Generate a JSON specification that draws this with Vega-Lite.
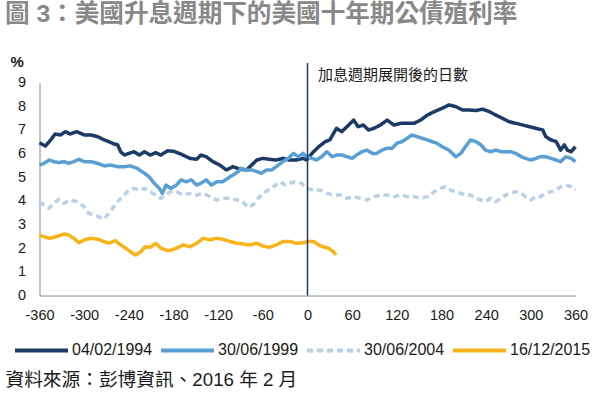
{
"$schema": "https://vega.github.io/schema/vega-lite/v6.json",
"width": 536, "height": 212.8,
"autosize": {"type": "none"},
"padding": {"left": 39.5, "top": 82.7, "right": 20.5, "bottom": 102.5},
"background": "white",
"config": {"view": {"stroke": null}, "font": "Liberation Sans, Noto Sans CJK TC"},
"title": {"text": "圖 3：美國升息週期下的美國十年期公債殖利率", "anchor": "start", "frame": "group", "dx": -34.5, "offset": 26, "fontSize": 24.6, "fontWeight": "bold", "color": "#888888", "font": "Liberation Sans, Noto Sans CJK TC"},
"layer": [
{"data": {"values": [
{"s":"04/02/1994","d":-360,"v":6.46},{"s":"04/02/1994","d":-352,"v":6.32},{"s":"04/02/1994","d":-345,"v":6.58},{"s":"04/02/1994","d":-339,"v":6.83},{"s":"04/02/1994","d":-332,"v":6.79},{"s":"04/02/1994","d":-325,"v":6.93},{"s":"04/02/1994","d":-319,"v":6.83},{"s":"04/02/1994","d":-310,"v":6.93},{"s":"04/02/1994","d":-300,"v":6.79},{"s":"04/02/1994","d":-291,"v":6.79},{"s":"04/02/1994","d":-282,"v":6.72},{"s":"04/02/1994","d":-273,"v":6.58},{"s":"04/02/1994","d":-267,"v":6.51},{"s":"04/02/1994","d":-260,"v":6.41},{"s":"04/02/1994","d":-255,"v":6.37},{"s":"04/02/1994","d":-251,"v":6.08},{"s":"04/02/1994","d":-246,"v":5.94},{"s":"04/02/1994","d":-240,"v":6.01},{"s":"04/02/1994","d":-233,"v":6.08},{"s":"04/02/1994","d":-226,"v":5.94},{"s":"04/02/1994","d":-219,"v":6.08},{"s":"04/02/1994","d":-211,"v":5.94},{"s":"04/02/1994","d":-204,"v":6.04},{"s":"04/02/1994","d":-197,"v":5.94},{"s":"04/02/1994","d":-188,"v":6.12},{"s":"04/02/1994","d":-180,"v":6.1},{"s":"04/02/1994","d":-172,"v":6.01},{"s":"04/02/1994","d":-158,"v":5.8},{"s":"04/02/1994","d":-149,"v":5.76},{"s":"04/02/1994","d":-143,"v":5.94},{"s":"04/02/1994","d":-136,"v":5.87},{"s":"04/02/1994","d":-127,"v":5.66},{"s":"04/02/1994","d":-118,"v":5.52},{"s":"04/02/1994","d":-109,"v":5.31},{"s":"04/02/1994","d":-100,"v":5.45},{"s":"04/02/1994","d":-91,"v":5.34},{"s":"04/02/1994","d":-82,"v":5.31},{"s":"04/02/1994","d":-75,"v":5.52},{"s":"04/02/1994","d":-68,"v":5.73},{"s":"04/02/1994","d":-60,"v":5.8},{"s":"04/02/1994","d":-51,"v":5.76},{"s":"04/02/1994","d":-42,"v":5.73},{"s":"04/02/1994","d":-33,"v":5.8},{"s":"04/02/1994","d":-24,"v":5.73},{"s":"04/02/1994","d":-15,"v":5.73},{"s":"04/02/1994","d":-6,"v":5.8},{"s":"04/02/1994","d":-1,"v":5.73},{"s":"04/02/1994","d":6,"v":6.01},{"s":"04/02/1994","d":15,"v":6.29},{"s":"04/02/1994","d":24,"v":6.51},{"s":"04/02/1994","d":30,"v":6.58},{"s":"04/02/1994","d":35,"v":6.86},{"s":"04/02/1994","d":39,"v":7.07},{"s":"04/02/1994","d":46,"v":6.93},{"s":"04/02/1994","d":53,"v":7.14},{"s":"04/02/1994","d":62,"v":7.42},{"s":"04/02/1994","d":68,"v":7.14},{"s":"04/02/1994","d":75,"v":7.21},{"s":"04/02/1994","d":82,"v":7.0},{"s":"04/02/1994","d":89,"v":7.07},{"s":"04/02/1994","d":98,"v":7.21},{"s":"04/02/1994","d":107,"v":7.42},{"s":"04/02/1994","d":116,"v":7.21},{"s":"04/02/1994","d":125,"v":7.28},{"s":"04/02/1994","d":134,"v":7.28},{"s":"04/02/1994","d":143,"v":7.28},{"s":"04/02/1994","d":152,"v":7.42},{"s":"04/02/1994","d":161,"v":7.63},{"s":"04/02/1994","d":170,"v":7.77},{"s":"04/02/1994","d":181,"v":7.92},{"s":"04/02/1994","d":190,"v":8.06},{"s":"04/02/1994","d":199,"v":7.99},{"s":"04/02/1994","d":208,"v":7.85},{"s":"04/02/1994","d":217,"v":7.85},{"s":"04/02/1994","d":226,"v":7.82},{"s":"04/02/1994","d":235,"v":7.88},{"s":"04/02/1994","d":244,"v":7.78},{"s":"04/02/1994","d":253,"v":7.63},{"s":"04/02/1994","d":262,"v":7.49},{"s":"04/02/1994","d":271,"v":7.35},{"s":"04/02/1994","d":280,"v":7.28},{"s":"04/02/1994","d":289,"v":7.21},{"s":"04/02/1994","d":298,"v":7.14},{"s":"04/02/1994","d":307,"v":7.07},{"s":"04/02/1994","d":316,"v":7.0},{"s":"04/02/1994","d":320,"v":6.72},{"s":"04/02/1994","d":327,"v":6.58},{"s":"04/02/1994","d":334,"v":6.51},{"s":"04/02/1994","d":340,"v":6.15},{"s":"04/02/1994","d":345,"v":6.37},{"s":"04/02/1994","d":349,"v":6.15},{"s":"04/02/1994","d":354,"v":6.08},{"s":"04/02/1994","d":360,"v":6.29},
{"s":"30/06/1999","d":-360,"v":5.52},{"s":"30/06/1999","d":-354,"v":5.59},{"s":"30/06/1999","d":-347,"v":5.73},{"s":"30/06/1999","d":-341,"v":5.66},{"s":"30/06/1999","d":-334,"v":5.62},{"s":"30/06/1999","d":-327,"v":5.66},{"s":"30/06/1999","d":-321,"v":5.59},{"s":"30/06/1999","d":-314,"v":5.66},{"s":"30/06/1999","d":-307,"v":5.76},{"s":"30/06/1999","d":-300,"v":5.66},{"s":"30/06/1999","d":-291,"v":5.66},{"s":"30/06/1999","d":-282,"v":5.59},{"s":"30/06/1999","d":-273,"v":5.48},{"s":"30/06/1999","d":-265,"v":5.52},{"s":"30/06/1999","d":-255,"v":5.45},{"s":"30/06/1999","d":-246,"v":5.45},{"s":"30/06/1999","d":-238,"v":5.48},{"s":"30/06/1999","d":-229,"v":5.38},{"s":"30/06/1999","d":-219,"v":5.17},{"s":"30/06/1999","d":-213,"v":5.03},{"s":"30/06/1999","d":-206,"v":4.75},{"s":"30/06/1999","d":-199,"v":4.53},{"s":"30/06/1999","d":-195,"v":4.32},{"s":"30/06/1999","d":-190,"v":4.67},{"s":"30/06/1999","d":-184,"v":4.53},{"s":"30/06/1999","d":-176,"v":4.67},{"s":"30/06/1999","d":-170,"v":4.89},{"s":"30/06/1999","d":-163,"v":4.81},{"s":"30/06/1999","d":-156,"v":4.89},{"s":"30/06/1999","d":-149,"v":4.67},{"s":"30/06/1999","d":-143,"v":4.75},{"s":"30/06/1999","d":-136,"v":4.89},{"s":"30/06/1999","d":-129,"v":4.67},{"s":"30/06/1999","d":-122,"v":4.81},{"s":"30/06/1999","d":-114,"v":4.81},{"s":"30/06/1999","d":-107,"v":4.96},{"s":"30/06/1999","d":-100,"v":5.1},{"s":"30/06/1999","d":-93,"v":5.24},{"s":"30/06/1999","d":-89,"v":5.38},{"s":"30/06/1999","d":-82,"v":5.31},{"s":"30/06/1999","d":-75,"v":5.31},{"s":"30/06/1999","d":-68,"v":5.24},{"s":"30/06/1999","d":-62,"v":5.17},{"s":"30/06/1999","d":-55,"v":5.31},{"s":"30/06/1999","d":-48,"v":5.31},{"s":"30/06/1999","d":-42,"v":5.45},{"s":"30/06/1999","d":-33,"v":5.66},{"s":"30/06/1999","d":-26,"v":5.8},{"s":"30/06/1999","d":-19,"v":6.01},{"s":"30/06/1999","d":-12,"v":5.87},{"s":"30/06/1999","d":-6,"v":6.01},{"s":"30/06/1999","d":-1,"v":5.87},{"s":"30/06/1999","d":6,"v":5.8},{"s":"30/06/1999","d":12,"v":5.73},{"s":"30/06/1999","d":19,"v":5.87},{"s":"30/06/1999","d":26,"v":6.08},{"s":"30/06/1999","d":33,"v":5.87},{"s":"30/06/1999","d":39,"v":5.94},{"s":"30/06/1999","d":46,"v":5.94},{"s":"30/06/1999","d":53,"v":5.87},{"s":"30/06/1999","d":60,"v":5.8},{"s":"30/06/1999","d":66,"v":5.94},{"s":"30/06/1999","d":73,"v":6.08},{"s":"30/06/1999","d":80,"v":6.15},{"s":"30/06/1999","d":87,"v":6.01},{"s":"30/06/1999","d":93,"v":6.01},{"s":"30/06/1999","d":100,"v":6.15},{"s":"30/06/1999","d":107,"v":6.23},{"s":"30/06/1999","d":114,"v":6.23},{"s":"30/06/1999","d":120,"v":6.44},{"s":"30/06/1999","d":127,"v":6.51},{"s":"30/06/1999","d":134,"v":6.65},{"s":"30/06/1999","d":140,"v":6.79},{"s":"30/06/1999","d":147,"v":6.72},{"s":"30/06/1999","d":154,"v":6.65},{"s":"30/06/1999","d":161,"v":6.58},{"s":"30/06/1999","d":167,"v":6.51},{"s":"30/06/1999","d":174,"v":6.44},{"s":"30/06/1999","d":181,"v":6.29},{"s":"30/06/1999","d":190,"v":6.15},{"s":"30/06/1999","d":199,"v":5.87},{"s":"30/06/1999","d":206,"v":6.01},{"s":"30/06/1999","d":212,"v":6.29},{"s":"30/06/1999","d":219,"v":6.58},{"s":"30/06/1999","d":226,"v":6.51},{"s":"30/06/1999","d":233,"v":6.37},{"s":"30/06/1999","d":239,"v":6.15},{"s":"30/06/1999","d":246,"v":6.08},{"s":"30/06/1999","d":253,"v":6.15},{"s":"30/06/1999","d":260,"v":6.08},{"s":"30/06/1999","d":266,"v":6.08},{"s":"30/06/1999","d":273,"v":6.08},{"s":"30/06/1999","d":280,"v":6.01},{"s":"30/06/1999","d":287,"v":5.87},{"s":"30/06/1999","d":293,"v":5.8},{"s":"30/06/1999","d":300,"v":5.73},{"s":"30/06/1999","d":307,"v":5.8},{"s":"30/06/1999","d":313,"v":5.87},{"s":"30/06/1999","d":320,"v":5.87},{"s":"30/06/1999","d":327,"v":5.8},{"s":"30/06/1999","d":334,"v":5.73},{"s":"30/06/1999","d":340,"v":5.66},{"s":"30/06/1999","d":347,"v":5.87},{"s":"30/06/1999","d":354,"v":5.8},{"s":"30/06/1999","d":360,"v":5.66},
{"s":"30/06/2004","d":-360,"v":3.97},{"s":"30/06/2004","d":-354,"v":3.83},{"s":"30/06/2004","d":-347,"v":3.69},{"s":"30/06/2004","d":-341,"v":3.9},{"s":"30/06/2004","d":-334,"v":4.07},{"s":"30/06/2004","d":-327,"v":3.9},{"s":"30/06/2004","d":-318,"v":4.04},{"s":"30/06/2004","d":-310,"v":3.97},{"s":"30/06/2004","d":-300,"v":3.76},{"s":"30/06/2004","d":-294,"v":3.48},{"s":"30/06/2004","d":-287,"v":3.41},{"s":"30/06/2004","d":-280,"v":3.33},{"s":"30/06/2004","d":-273,"v":3.24},{"s":"30/06/2004","d":-267,"v":3.48},{"s":"30/06/2004","d":-260,"v":3.76},{"s":"30/06/2004","d":-253,"v":4.04},{"s":"30/06/2004","d":-246,"v":4.25},{"s":"30/06/2004","d":-240,"v":4.46},{"s":"30/06/2004","d":-233,"v":4.53},{"s":"30/06/2004","d":-226,"v":4.46},{"s":"30/06/2004","d":-219,"v":4.53},{"s":"30/06/2004","d":-211,"v":4.39},{"s":"30/06/2004","d":-204,"v":4.25},{"s":"30/06/2004","d":-197,"v":4.11},{"s":"30/06/2004","d":-190,"v":4.25},{"s":"30/06/2004","d":-184,"v":4.39},{"s":"30/06/2004","d":-176,"v":4.39},{"s":"30/06/2004","d":-167,"v":4.25},{"s":"30/06/2004","d":-158,"v":4.32},{"s":"30/06/2004","d":-149,"v":4.25},{"s":"30/06/2004","d":-140,"v":4.32},{"s":"30/06/2004","d":-131,"v":4.18},{"s":"30/06/2004","d":-122,"v":4.04},{"s":"30/06/2004","d":-114,"v":4.11},{"s":"30/06/2004","d":-104,"v":4.11},{"s":"30/06/2004","d":-95,"v":4.04},{"s":"30/06/2004","d":-87,"v":3.97},{"s":"30/06/2004","d":-80,"v":3.73},{"s":"30/06/2004","d":-73,"v":3.83},{"s":"30/06/2004","d":-66,"v":4.11},{"s":"30/06/2004","d":-60,"v":4.32},{"s":"30/06/2004","d":-53,"v":4.46},{"s":"30/06/2004","d":-46,"v":4.6},{"s":"30/06/2004","d":-37,"v":4.81},{"s":"30/06/2004","d":-30,"v":4.67},{"s":"30/06/2004","d":-24,"v":4.75},{"s":"30/06/2004","d":-17,"v":4.81},{"s":"30/06/2004","d":-8,"v":4.75},{"s":"30/06/2004","d":-1,"v":4.53},{"s":"30/06/2004","d":8,"v":4.46},{"s":"30/06/2004","d":17,"v":4.46},{"s":"30/06/2004","d":26,"v":4.32},{"s":"30/06/2004","d":35,"v":4.25},{"s":"30/06/2004","d":44,"v":4.25},{"s":"30/06/2004","d":53,"v":4.11},{"s":"30/06/2004","d":62,"v":4.18},{"s":"30/06/2004","d":71,"v":4.11},{"s":"30/06/2004","d":80,"v":4.04},{"s":"30/06/2004","d":89,"v":4.18},{"s":"30/06/2004","d":98,"v":4.25},{"s":"30/06/2004","d":107,"v":4.25},{"s":"30/06/2004","d":116,"v":4.18},{"s":"30/06/2004","d":125,"v":4.25},{"s":"30/06/2004","d":134,"v":4.18},{"s":"30/06/2004","d":143,"v":4.18},{"s":"30/06/2004","d":152,"v":4.11},{"s":"30/06/2004","d":161,"v":4.18},{"s":"30/06/2004","d":170,"v":4.39},{"s":"30/06/2004","d":179,"v":4.53},{"s":"30/06/2004","d":185,"v":4.6},{"s":"30/06/2004","d":192,"v":4.46},{"s":"30/06/2004","d":199,"v":4.39},{"s":"30/06/2004","d":206,"v":4.32},{"s":"30/06/2004","d":212,"v":4.25},{"s":"30/06/2004","d":219,"v":4.25},{"s":"30/06/2004","d":226,"v":4.11},{"s":"30/06/2004","d":233,"v":4.04},{"s":"30/06/2004","d":239,"v":3.97},{"s":"30/06/2004","d":246,"v":4.11},{"s":"30/06/2004","d":253,"v":3.97},{"s":"30/06/2004","d":260,"v":4.11},{"s":"30/06/2004","d":266,"v":4.25},{"s":"30/06/2004","d":273,"v":4.32},{"s":"30/06/2004","d":280,"v":4.39},{"s":"30/06/2004","d":287,"v":4.32},{"s":"30/06/2004","d":293,"v":4.18},{"s":"30/06/2004","d":300,"v":4.04},{"s":"30/06/2004","d":307,"v":4.18},{"s":"30/06/2004","d":313,"v":4.18},{"s":"30/06/2004","d":320,"v":4.32},{"s":"30/06/2004","d":327,"v":4.39},{"s":"30/06/2004","d":334,"v":4.46},{"s":"30/06/2004","d":340,"v":4.6},{"s":"30/06/2004","d":347,"v":4.67},{"s":"30/06/2004","d":354,"v":4.6},{"s":"30/06/2004","d":360,"v":4.46},
{"s":"16/12/2015","d":-360,"v":2.56},{"s":"16/12/2015","d":-354,"v":2.49},{"s":"16/12/2015","d":-347,"v":2.42},{"s":"16/12/2015","d":-341,"v":2.46},{"s":"16/12/2015","d":-334,"v":2.52},{"s":"16/12/2015","d":-327,"v":2.6},{"s":"16/12/2015","d":-321,"v":2.56},{"s":"16/12/2015","d":-314,"v":2.42},{"s":"16/12/2015","d":-307,"v":2.23},{"s":"16/12/2015","d":-300,"v":2.35},{"s":"16/12/2015","d":-291,"v":2.42},{"s":"16/12/2015","d":-282,"v":2.38},{"s":"16/12/2015","d":-273,"v":2.28},{"s":"16/12/2015","d":-267,"v":2.21},{"s":"16/12/2015","d":-258,"v":2.32},{"s":"16/12/2015","d":-251,"v":2.14},{"s":"16/12/2015","d":-244,"v":2.0},{"s":"16/12/2015","d":-238,"v":1.85},{"s":"16/12/2015","d":-231,"v":1.71},{"s":"16/12/2015","d":-224,"v":1.85},{"s":"16/12/2015","d":-218,"v":2.06},{"s":"16/12/2015","d":-211,"v":2.04},{"s":"16/12/2015","d":-204,"v":2.21},{"s":"16/12/2015","d":-197,"v":2.0},{"s":"16/12/2015","d":-190,"v":1.92},{"s":"16/12/2015","d":-184,"v":1.9},{"s":"16/12/2015","d":-176,"v":2.0},{"s":"16/12/2015","d":-167,"v":2.14},{"s":"16/12/2015","d":-158,"v":2.06},{"s":"16/12/2015","d":-149,"v":2.21},{"s":"16/12/2015","d":-140,"v":2.42},{"s":"16/12/2015","d":-131,"v":2.35},{"s":"16/12/2015","d":-122,"v":2.42},{"s":"16/12/2015","d":-114,"v":2.38},{"s":"16/12/2015","d":-104,"v":2.28},{"s":"16/12/2015","d":-95,"v":2.21},{"s":"16/12/2015","d":-87,"v":2.18},{"s":"16/12/2015","d":-78,"v":2.14},{"s":"16/12/2015","d":-68,"v":2.21},{"s":"16/12/2015","d":-60,"v":2.09},{"s":"16/12/2015","d":-51,"v":2.04},{"s":"16/12/2015","d":-42,"v":2.14},{"s":"16/12/2015","d":-33,"v":2.28},{"s":"16/12/2015","d":-24,"v":2.28},{"s":"16/12/2015","d":-15,"v":2.21},{"s":"16/12/2015","d":-6,"v":2.23},{"s":"16/12/2015","d":1,"v":2.28},{"s":"16/12/2015","d":8,"v":2.28},{"s":"16/12/2015","d":15,"v":2.14},{"s":"16/12/2015","d":21,"v":2.06},{"s":"16/12/2015","d":28,"v":2.0},{"s":"16/12/2015","d":35,"v":1.85},{"s":"16/12/2015","d":38,"v":1.71}
]},
 "mark": {"type": "line", "strokeWidth": 3.5, "strokeJoin": "round"},
 "encoding": {
  "x": {"field": "d", "type": "quantitative", "scale": {"domain": [-360, 360], "nice": false},
        "axis": {"values": [-360,-300,-240,-180,-120,-60,0,60,120,180,240,300,360], "labelExpr": "'' + datum.value", "labelOverlap": false, "ticks": false, "grid": false, "domainColor": "#8c8c8c", "labelFontSize": 14.5, "labelPadding": 13, "labelColor": "#1a1a1a", "labelFlush": false,
                 "title": "資料來源：彭博資訊、2016 年 2 月", "titleX": -34.5, "titleY": 84, "titleAlign": "left", "titleBaseline": "middle", "titleFontSize": 18.7, "titleFontWeight": "normal", "titleColor": "#1a1a1a"}},
  "y": {"field": "v", "type": "quantitative", "scale": {"domain": [0, 9], "nice": false},
        "axis": {"values": [0,1,2,3,4,5,6,7,8,9], "tickCount": 10, "labelOverlap": false, "ticks": false, "grid": false, "domainColor": "#8c8c8c", "labelFontSize": 14.5, "labelPadding": 14, "labelColor": "#1a1a1a",
                 "title": "%", "titleAngle": 0, "titleX": -29.5, "titleY": -21.7, "titleAlign": "left", "titleBaseline": "middle", "titleFontSize": 15, "titleFontWeight": "bold", "titleColor": "#1a1a1a"}},
  "color": {"field": "s", "type": "nominal", "sort": null,
            "scale": {"domain": ["04/02/1994","30/06/1999","30/06/2004","16/12/2015"], "range": ["#1b3a66","#5a9fd4","#b9d0ea","#f7b317"]},
            "legend": {"orient": "none", "legendX": -26.5, "legendY": 239, "direction": "horizontal", "columns": 4, "title": null, "symbolType": "stroke", "symbolSize": 2809, "symbolStrokeWidth": 4, "labelFontSize": 16, "labelOffset": 2, "columnPadding": 0, "labelColor": "#1a1a1a", "padding": 0}},
  "strokeDash": {"field": "s", "type": "nominal", "sort": null,
            "scale": {"domain": ["04/02/1994","30/06/1999","30/06/2004","16/12/2015"], "range": [[1,0],[1,0],[6,4],[1,0]]},
            "legend": null}
 }},
{"data": {"values": [{}]},
 "mark": {"type": "rule", "color": "#1f3864", "strokeWidth": 1.5},
 "encoding": {"x": {"datum": 0, "type": "quantitative", "scale": {"domain": [-360, 360], "nice": false},
        "axis": {"values": [-360,-300,-240,-180,-120,-60,0,60,120,180,240,300,360], "labelExpr": "'' + datum.value", "labelOverlap": false, "ticks": false, "grid": false, "domainColor": "#8c8c8c", "labelFontSize": 14.5, "labelPadding": 13, "labelColor": "#1a1a1a", "labelFlush": false,
                 "title": "資料來源：彭博資訊、2016 年 2 月", "titleX": -34.5, "titleY": 84, "titleAlign": "left", "titleBaseline": "middle", "titleFontSize": 18.7, "titleFontWeight": "normal", "titleColor": "#1a1a1a"}},
              "y": {"datum": 0, "type": "quantitative", "scale": {"domain": [0, 9], "nice": false},
        "axis": {"values": [0,1,2,3,4,5,6,7,8,9], "tickCount": 10, "labelOverlap": false, "ticks": false, "grid": false, "domainColor": "#8c8c8c", "labelFontSize": 14.5, "labelPadding": 14, "labelColor": "#1a1a1a",
                 "title": "%", "titleAngle": 0, "titleX": -29.5, "titleY": -21.7, "titleAlign": "left", "titleBaseline": "middle", "titleFontSize": 15, "titleFontWeight": "bold", "titleColor": "#1a1a1a"}},
              "y2": {"datum": 9.83}}},
{"data": {"values": [{}]},
 "mark": {"type": "text", "align": "left", "baseline": "middle", "fontSize": 15, "color": "#1a1a1a", "font": "Liberation Sans, Noto Sans CJK TC"},
 "encoding": {"x": {"datum": 14, "type": "quantitative", "scale": {"domain": [-360, 360], "nice": false},
        "axis": {"values": [-360,-300,-240,-180,-120,-60,0,60,120,180,240,300,360], "labelExpr": "'' + datum.value", "labelOverlap": false, "ticks": false, "grid": false, "domainColor": "#8c8c8c", "labelFontSize": 14.5, "labelPadding": 13, "labelColor": "#1a1a1a", "labelFlush": false,
                 "title": "資料來源：彭博資訊、2016 年 2 月", "titleX": -34.5, "titleY": 84, "titleAlign": "left", "titleBaseline": "middle", "titleFontSize": 18.7, "titleFontWeight": "normal", "titleColor": "#1a1a1a"}},
              "y": {"datum": 9.33, "type": "quantitative", "scale": {"domain": [0, 9], "nice": false},
        "axis": {"values": [0,1,2,3,4,5,6,7,8,9], "tickCount": 10, "labelOverlap": false, "ticks": false, "grid": false, "domainColor": "#8c8c8c", "labelFontSize": 14.5, "labelPadding": 14, "labelColor": "#1a1a1a",
                 "title": "%", "titleAngle": 0, "titleX": -29.5, "titleY": -21.7, "titleAlign": "left", "titleBaseline": "middle", "titleFontSize": 15, "titleFontWeight": "bold", "titleColor": "#1a1a1a"}},
              "text": {"value": "加息週期展開後的日數"}}}
]
}
